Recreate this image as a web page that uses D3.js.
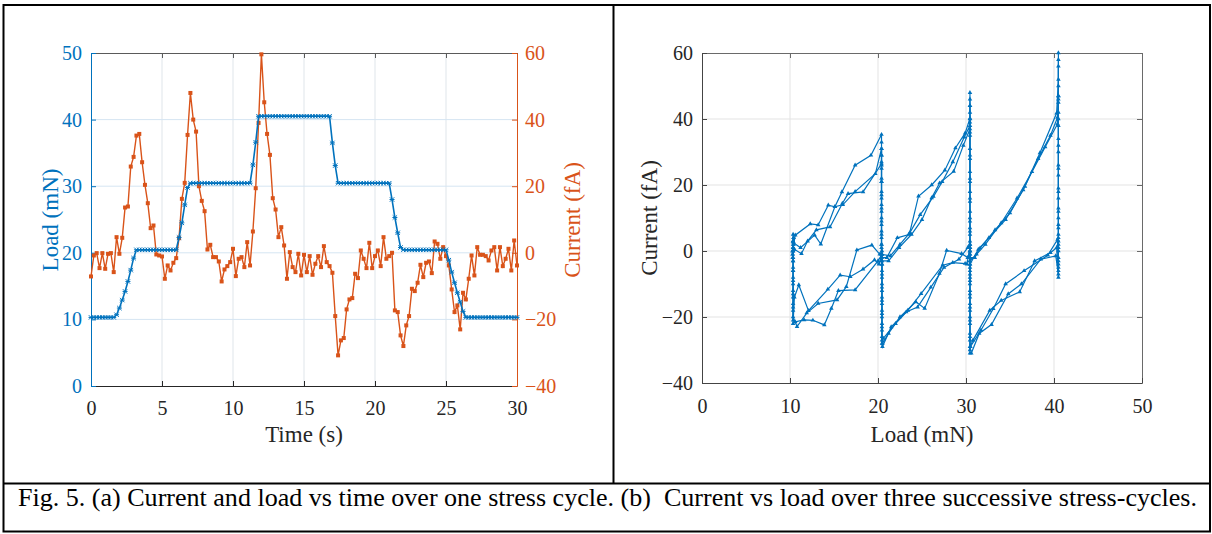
<!DOCTYPE html>
<html><head><meta charset="utf-8">
<script src="https://cdn.jsdelivr.net/npm/d3@7"></script>
<style>
body{margin:0;background:#fff}
svg{display:block}
</style>
</head><body>
<svg id="c" width="1212" height="534"></svg>
<script>
// ---------- (a) Current and load vs time ----------
const timeS = [0,0.2,0.4,0.6,0.8,1,1.2,1.4,1.6,1.8,2,2.2,2.4,2.6,2.8,3,3.2,3.4,3.6,3.8,4,4.2,4.4,4.6,4.8,5,5.2,5.4,5.6,5.8,6,6.2,6.4,6.6,6.8,7,7.2,7.4,7.6,7.8,8,8.2,8.4,8.6,8.8,9,9.2,9.4,9.6,9.8,10,10.2,10.4,10.6,10.8,11,11.2,11.4,11.6,11.8,12,12.2,12.4,12.6,12.8,13,13.2,13.4,13.6,13.8,14,14.2,14.4,14.6,14.8,15,15.2,15.4,15.6,15.8,16,16.2,16.4,16.6,16.8,17,17.2,17.4,17.6,17.8,18,18.2,18.4,18.6,18.8,19,19.2,19.4,19.6,19.8,20,20.2,20.4,20.6,20.8,21,21.2,21.4,21.6,21.8,22,22.2,22.4,22.6,22.8,23,23.2,23.4,23.6,23.8,24,24.2,24.4,24.6,24.8,25,25.2,25.4,25.6,25.8,26,26.2,26.4,26.6,26.8,27,27.2,27.4,27.6,27.8,28,28.2,28.4,28.6,28.8,29,29.2,29.4,29.6,29.8,30];
const loadMN = [10.3,10.3,10.3,10.3,10.3,10.3,10.3,10.3,10.3,10.7,11.7,12.9,14.2,15.7,17.4,19.2,20.45,20.45,20.45,20.45,20.45,20.45,20.45,20.45,20.45,20.45,20.45,20.45,20.45,20.45,20.45,22.3,24.5,27.2,29.8,30.45,30.45,30.45,30.45,30.45,30.45,30.45,30.45,30.45,30.45,30.45,30.45,30.45,30.45,30.45,30.45,30.45,30.45,30.45,30.45,30.45,30.45,33.2,36.6,40.5,40.5,40.5,40.5,40.5,40.5,40.5,40.5,40.5,40.5,40.5,40.5,40.5,40.5,40.5,40.5,40.5,40.5,40.5,40.5,40.5,40.5,40.5,40.5,40.5,40.5,36.5,33.1,30.45,30.45,30.45,30.45,30.45,30.45,30.45,30.45,30.45,30.45,30.45,30.45,30.45,30.45,30.45,30.45,30.45,30.45,30.45,28.0,25.3,23.0,20.8,20.45,20.45,20.45,20.45,20.45,20.45,20.45,20.45,20.45,20.45,20.45,20.45,20.45,20.45,20.45,20.45,18.9,17.1,15.5,14.0,12.6,11.2,10.3,10.3,10.3,10.3,10.3,10.3,10.3,10.3,10.3,10.3,10.3,10.3,10.3,10.3,10.3,10.3,10.3,10.3,10.3];
const currentFA = [-7.1,-0.8,-0.1,-4.6,-0.1,-4.8,-0.3,-0.1,-5.8,4.7,-0.3,4.5,13.6,13.9,25.9,28.8,35.2,35.7,27.2,20.4,14.9,7.4,8.2,-0.5,-0.8,-1.1,-7.8,-3.8,-5.3,-3.0,-1.6,4.4,16.2,21.0,35.4,48.0,40.0,36.4,20.0,15.6,12.5,1.0,2.4,-1.3,-1.3,-2.6,-8.6,-5.0,-4.0,-2.8,1.2,-7.0,-1.8,-1.3,-4.3,3.2,-3.8,6.4,19.4,39.0,59.6,45.2,35.7,29.4,16.4,13.0,4.7,7.7,2.2,-7.8,0.2,-4.3,-5.8,-0.3,-6.8,-0.6,-5.8,-1.0,-6.6,-3.3,-1.0,-4.3,2.0,-2.8,-4.0,-6.0,-19.0,-30.8,-26.3,-25.6,-17.0,-14.0,-13.6,-6.3,-7.6,0.7,-1.8,-4.6,3.0,-4.6,-1.0,0.7,-4.0,4.7,-1.8,-1.0,0.0,-17.3,-17.8,-24.8,-28.0,-21.8,-19.0,-10.8,-11.5,-9.0,-3.6,-7.3,-3.0,-2.6,-6.1,3.4,2.7,-1.8,1.7,-1.0,-3.8,-11.0,-17.8,-15.8,-23.0,-12.0,-14.0,-7.8,-0.8,-6.8,1.7,-0.6,-0.6,-1.0,-2.3,0.7,1.7,-5.3,1.7,-4.0,-1.8,1.2,-5.3,3.7,-3.8];
const timeTicks = [0,5,10,15,20,25,30];
const loadTicks = [0,10,20,30,40,50];
const currentTicks = [-40,-20,0,20,40,60];

// ---------- (b) Current vs load, three cycles ----------
const cycle1Load = [10.3,10.35,10.3,10.4,10.35, 10.6,12.3,13.2,14.35,15.1,15.9,17.4,19.2,20.4, 20.4,20.4,20.4,20.4,20.4,20.4,20.4,20.4,20.4,20.4, 21.4,22.5,23.6,24.6,26.1,27.6,28.8,29.9,30.45, 30.45,30.45,30.45,30.45,30.45,30.45,30.45,30.45,30.45,30.45,30.45, 31.0,31.6,33.3,35.0,36.7,38.4,40.3, 40.5,40.5,40.5,40.5,40.5,40.5,40.5,40.5,40.5,40.5,40.5,40.5,40.5, 40.4,39.3,36.6,34.5,33.1,31.7,30.5, 30.45,30.45,30.45,30.45,30.45,30.45,30.45,30.45,30.45,30.45, 30.2,29.5,27.8,26.98,25.3,24.3,22.5,21.2,20.5, 20.45,20.45,20.45,20.45,20.45,20.45,20.45,20.45, 20.2,19.3,17.6,16.4,15.35,13.2,11.9,10.8, 10.35,10.35,10.35,10.35,10.35,10.35,10.35,10.35];
const cycle1Current = [-2,3,-1,4,1, 4.8,8.2,7.9,13.9,13.4,17.9,26.0,29.0,35.3, 33,29,25,21,16,12,8,4,1,-1, -1.5,2.0,5.5,16.6,20.0,24.5,31.2,35.7,40.2, 44,48,39,31,24,18,12,7,3,0,-2, -2,0.9,6.4,11.5,19.6,29.7,41.8, 52,60,50,42,34,26,19,13,8,4,1,-3,-6, 3.5,-1.3,-6.0,-10.0,-17.5,-24.0,-29.0, -30,-27,-22,-18,-14,-10,-7,-4,-2,0, -2.0,-0.8,0.2,-6.8,-17.4,-15.4,-20.0,-25.0,-28.0, -26,-22,-18,-14,-10,-6,-3,0, -1.0,1.8,0.3,-10.8,-14.8,-15.9,-18.8,-22.9, -20,-16,-12,-8,-5,-2,1,3];
const cycle2Load = [10.35,10.3,10.4,10.3, 10.5,11.3,12.0,13.0,14.55,15.95,16.6,18.3,20.4, 20.4,20.4,20.4,20.4,20.4,20.4,20.4,20.4,20.4,20.4, 21.2,22.4,23.8,25.0,26.1,27.0,28.6,29.7,30.45, 30.45,30.45,30.45,30.45,30.45,30.45,30.45,30.45,30.45,30.45,30.45, 31.2,32.2,34.0,35.8,37.5,39.0,40.4, 40.5,40.5,40.5,40.5,40.5,40.5,40.5,40.5,40.5,40.5,40.5,40.5,40.5, 40.3,39.6,37.8,36.1,34.0,32.7,30.8, 30.45,30.45,30.45,30.45,30.45,30.45,30.45,30.45,30.45,30.45, 30.1,29.9,28.5,27.35,24.9,23.4,22.0,20.6, 20.45,20.45,20.45,20.45,20.45,20.45,20.45,20.45, 20.1,19.6,18.3,16.85,15.7,14.3,12.1,11.0,10.5, 10.35,10.35,10.35,10.35,10.35,10.35,10.35,10.35];
const cycle2Current = [3,0,2,-1, 0.5,-0.8,3.0,6.4,7.3,14.4,17.4,17.9,26.4, 31,27,22,18,14,10,6,2,-2,-3, -3.0,1.0,5.0,9.5,16.1,20.6,24.1,32.0,37.0, 42,46,36,29,22,16,10,6,2,-1,-3, -1,2.0,8.5,16.0,24.0,31.5,38.5, 45,56,47,40,32,25,18,12,7,3,0,-4,-8, 1.0,-0.5,-3.0,-12.4,-15.0,-18.0,-27.0, -29,-25,-21,-17,-13,-9,-6,-3,-1,1, -4.0,-3.8,-3.5,-4.3,-12.9,-18.0,-22.0,-26.5, -27,-23,-19,-15,-11,-7,-4,-1, -4.0,-2.7,-5.5,-7.8,-7.3,-11.6,-18.1,-10.3,-14.0, -22,-18,-14,-10,-6,-3,0,2];
const cycle3Load = [10.35,10.4,10.3, 10.4,11.2,12.8,13.5,15.1,16.0,17.4,19.7,20.4, 20.4,20.4,20.4,20.4,20.4,20.4,20.4,20.4,20.4,20.4, 21.0,22.2,23.5,24.8,26.3,27.3,28.5,29.8,30.45, 30.45,30.45,30.45,30.45,30.45,30.45,30.45,30.45,30.45,30.45,30.45, 31.4,32.6,34.5,36.5,38.2,39.6,40.4, 40.5,40.5,40.5,40.5,40.5,40.5,40.5,40.5,40.5,40.5,40.5,40.5,40.5, 40.2,38.5,36.3,34.8,32.9,31.5,30.6, 30.45,30.45,30.45,30.45,30.45,30.45,30.45,30.45,30.45,30.45, 30.2,29.2,27.5,26.0,24.5,23.2,21.5,20.5, 20.45,20.45,20.45,20.45,20.45,20.45,20.45,20.45, 20.0,17.4,15.5,14.7,13.9,12.6,11.6,10.6, 10.35,10.35,10.35,10.35,10.35,10.35,10.35,10.35];
const cycle3Current = [1,4,0, 2.5,1.0,4.8,2.1,13.4,14.0,18.0,23.4,31.0, 29,26,21,17,13,9,5,2,-1,-2, -2.0,4.0,5.0,11.0,16.5,21.0,27.0,34.5,38.0, 40,44,35,28,21,15,9,5,1,-2,-4, 0.5,4.0,9.5,18.5,28.0,35.0,40.5, 47,58,46,38,30,23,16,10,5,2,-2,-5,-7, -1.5,-2.5,-10.0,-13.0,-22.3,-25.0,-31.0, -31,-26,-20,-16,-12,-8,-5,-2,0,2, 1.0,-2.5,-5.0,-11.0,-17.0,-18.5,-23.0,-29.0, -28,-24,-20,-16,-12,-8,-4,-1, -3.0,-11.8,-12.0,-17.4,-22.4,-21.0,-20.9,-21.5, -21,-17,-13,-9,-6,-3,0,5];
const bLoadTicks = [0,10,20,30,40,50];
const bCurrentTicks = [-40,-20,0,20,40,60];

const captionText = "Fig. 5. (a) Current and load vs time over one stress cycle. (b)\u00A0 Current vs load over three successive stress-cycles.";

// ---------- drawing ----------
const FONT = '"Liberation Serif"';
const BLUE = "#0072BD", ORANGE = "#D95319", AX = "#262626";
const svg = d3.select("#c");

// table frame
svg.append("rect").attr("x",3.5).attr("y",5).attr("width",1206.5).attr("height",526.5)
  .attr("fill","none").attr("stroke","#000").attr("stroke-width",2);
svg.append("line").attr("x1",613.5).attr("x2",613.5).attr("y1",5).attr("y2",484).attr("stroke","#000").attr("stroke-width",2);
svg.append("line").attr("x1",3.5).attr("x2",1210).attr("y1",483.5).attr("y2",483.5).attr("stroke","#000").attr("stroke-width",2);

function styleAxis(g, color, size){
  g.attr("font-family", null);
  g.select(".domain").attr("stroke", color).attr("stroke-width",1);
  g.selectAll(".tick line").attr("stroke", color).attr("stroke-width",1);
  g.selectAll(".tick text").attr("fill", color).style("font-size", size+"px")
    .style("font-family", FONT);
}
function label(g, txt, size, color){
  return g.append("text").style("font-family", FONT).style("font-size", size+"px")
    .attr("fill", color).attr("text-anchor","middle").text(txt);
}

// ===== Panel (a) =====
const ax = d3.scaleLinear().domain([0,30]).range([91,517]);
const ayL = d3.scaleLinear().domain([0,50]).range([386,53]);
const ayR = d3.scaleLinear().domain([-40,60]).range([386,53]);
const pa = svg.append("g");

pa.append("g").selectAll("line").data(timeTicks.slice(1,-1)).join("line")
  .attr("x1",d=>ax(d)).attr("x2",d=>ax(d)).attr("y1",53).attr("y2",386)
  .attr("stroke","#dfe5ea").attr("stroke-width",1);
pa.append("g").selectAll("line").data(loadTicks.slice(1,-1)).join("line")
  .attr("x1",91).attr("x2",517).attr("y1",d=>ayL(d)).attr("y2",d=>ayL(d))
  .attr("stroke","#d5e5f2").attr("stroke-width",1);

const gTop = pa.append("g").attr("transform","translate(0,53)")
  .call(d3.axisTop(ax).tickValues(timeTicks).tickSizeInner(-5).tickSizeOuter(0).tickFormat(""));
styleAxis(gTop, "#5a5a5a", 20);
const gBot = pa.append("g").attr("transform","translate(0,386)")
  .call(d3.axisBottom(ax).tickValues(timeTicks).tickSizeInner(-5).tickSizeOuter(0).tickPadding(15));
styleAxis(gBot, AX, 20);
const gL = pa.append("g").attr("transform","translate(91,0)")
  .call(d3.axisLeft(ayL).tickValues(loadTicks).tickSizeInner(-5).tickSizeOuter(0).tickPadding(9));
styleAxis(gL, BLUE, 20);
const gR = pa.append("g").attr("transform","translate(517,0)")
  .call(d3.axisRight(ayR).tickValues(currentTicks).tickSizeInner(-5).tickSizeOuter(0).tickPadding(8));
styleAxis(gR, ORANGE, 20);

const curPts = timeS.map((t,i)=>[t,currentFA[i]]);
pa.append("path").datum(curPts)
  .attr("d", d3.line().x(d=>ax(d[0])).y(d=>ayR(d[1])))
  .attr("fill","none").attr("stroke",ORANGE).attr("stroke-width",1.4);
pa.append("g").selectAll("rect").data(curPts).join("rect")
  .attr("x",d=>ax(d[0])-2).attr("y",d=>ayR(d[1])-2).attr("width",4).attr("height",4)
  .attr("fill",ORANGE);

const loadPts = timeS.map((t,i)=>[t,loadMN[i]]);
pa.append("path").datum(loadPts)
  .attr("d", d3.line().x(d=>ax(d[0])).y(d=>ayL(d[1])))
  .attr("fill","none").attr("stroke",BLUE).attr("stroke-width",1.6);
pa.append("g").selectAll("path").data(loadPts).join("path")
  .attr("transform",d=>`translate(${ax(d[0])},${ayL(d[1])})`)
  .attr("d","M-2.2,-2.2L2.2,2.2M-2.2,2.2L2.2,-2.2M-2.5,0L2.5,0")
  .attr("stroke",BLUE).attr("stroke-width",1).attr("fill","none");

label(pa, "Time (s)", 23, AX).attr("x",304).attr("y",442);
label(pa, "Load (mN)", 23, BLUE).attr("transform","translate(58,220) rotate(-90)");
label(pa, "Current (fA)", 23, ORANGE).attr("transform","translate(580,220) rotate(-90)");

// ===== Panel (b) =====
const bx = d3.scaleLinear().domain([0,50]).range([702,1142]);
const by = d3.scaleLinear().domain([-40,60]).range([383,53]);
const pb = svg.append("g");
pb.append("g").selectAll("line").data(bLoadTicks.slice(1,-1)).join("line")
  .attr("x1",d=>bx(d)).attr("x2",d=>bx(d)).attr("y1",53).attr("y2",383)
  .attr("stroke","#e3e3e3").attr("stroke-width",1);
pb.append("g").selectAll("line").data(bCurrentTicks.slice(1,-1)).join("line")
  .attr("x1",702).attr("x2",1142).attr("y1",d=>by(d)).attr("y2",d=>by(d))
  .attr("stroke","#e3e3e3").attr("stroke-width",1);

const bTop = pb.append("g").attr("transform","translate(0,53)")
  .call(d3.axisTop(bx).tickValues(bLoadTicks).tickSizeInner(-5).tickSizeOuter(0).tickFormat(""));
styleAxis(bTop, "#6a6a6a", 20);
const bRight = pb.append("g").attr("transform","translate(1142,0)")
  .call(d3.axisRight(by).tickValues(bCurrentTicks).tickSizeInner(-5).tickSizeOuter(0).tickFormat(""));
styleAxis(bRight, "#6a6a6a", 20);
const bBot = pb.append("g").attr("transform","translate(0,383)")
  .call(d3.axisBottom(bx).tickValues(bLoadTicks).tickSizeInner(-5).tickSizeOuter(0).tickPadding(16));
styleAxis(bBot, "#444", 20);
bBot.selectAll(".tick text").attr("fill",AX);
const bLeft = pb.append("g").attr("transform","translate(702,0)")
  .call(d3.axisLeft(by).tickValues(bCurrentTicks).tickSizeInner(-5).tickSizeOuter(0).tickPadding(9));
styleAxis(bLeft, "#444", 20);
bLeft.selectAll(".tick text").attr("fill",AX);

const cycles = [[cycle1Load,cycle1Current],[cycle2Load,cycle2Current],[cycle3Load,cycle3Current]];
const tri = d3.symbol().type(d3.symbolTriangle).size(9);
cycles.forEach(([L,C])=>{
  const pts = L.map((l,i)=>[l,C[i]]);
  pb.append("path").datum(pts)
    .attr("d", d3.line().x(d=>bx(d[0])).y(d=>by(d[1])))
    .attr("fill","none").attr("stroke",BLUE).attr("stroke-width",1.2);
  pb.append("g").selectAll("path").data(pts).join("path")
    .attr("transform",d=>`translate(${bx(d[0])},${by(d[1])})`)
    .attr("d",tri).attr("fill",BLUE);
});

label(pb, "Load (mN)", 23, AX).attr("x",922).attr("y",442);
label(pb, "Current (fA)", 23, AX).attr("transform","translate(657,218) rotate(-90)");

// caption: size chosen so the natural width spans the cell
const cap = svg.append("text").attr("x",18).attr("y",506)
  .style("font-family", FONT).style("font-size","23px").attr("fill","#000").text(captionText);
const natural = cap.node().getComputedTextLength();
const fs = Math.min(26, 23*1179/natural);
cap.style("font-size", fs+"px");
cap.attr("textLength",1179).attr("lengthAdjust","spacingAndGlyphs");
</script>
</body></html>
